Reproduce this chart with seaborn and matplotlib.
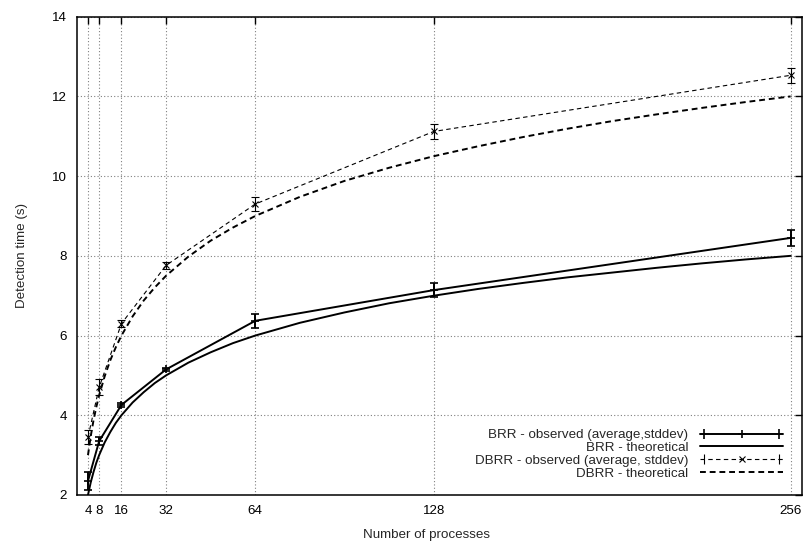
import matplotlib
matplotlib.use("Agg")
import matplotlib.pyplot as plt
import seaborn as sns
from matplotlib.lines import Line2D
from matplotlib.legend_handler import HandlerLine2D, HandlerTuple

# observed detection times (mean and stddev)
processes = [4, 8, 16, 32, 64, 128, 256]
brr_mean = [2.35, 3.35, 4.26, 5.15, 6.37, 7.14, 8.45]
brr_std = [0.22, 0.10, 0.05, 0.03, 0.17, 0.18, 0.20]
dbrr_mean = [3.45, 4.70, 6.30, 7.76, 9.30, 11.12, 12.53]
dbrr_std = [0.18, 0.20, 0.08, 0.08, 0.17, 0.18, 0.19]

# theoretical curves
theory_x = [4, 5, 6, 7, 8, 10, 12, 14, 16, 20, 24, 28, 32, 40, 48, 56, 64, 80, 96, 112,
            128, 144, 160, 176, 192, 208, 224, 240, 256]
brr_theory = [2.0, 2.32, 2.58, 2.81, 3.0, 3.32, 3.58, 3.81, 4.0, 4.32, 4.58, 4.81,
              5.0, 5.32, 5.58, 5.81, 6.0, 6.32, 6.58, 6.81, 7.0, 7.17, 7.32, 7.46,
              7.58, 7.70, 7.81, 7.91, 8.0]
dbrr_theory = [3.0, 3.48, 3.88, 4.21, 4.5, 4.98, 5.38, 5.71, 6.0, 6.48, 6.88, 7.21,
               7.5, 7.98, 8.38, 8.71, 9.0, 9.48, 9.88, 10.21, 10.5, 10.75, 10.98, 11.19,
               11.38, 11.55, 11.71, 11.86, 12.0]

y_ticks = [2, 4, 6, 8, 10, 12, 14]

sns.set_style("white")
plt.rcParams['font.family'] = ['Liberation Sans', 'DejaVu Sans']
plt.rcParams['font.size'] = 9.6

fig = plt.figure(figsize=(8.07, 5.44), dpi=100)
ax = fig.add_axes([0.0952, 0.0901, 0.8983, 0.8792])

ax.errorbar(processes, brr_mean, yerr=brr_std, color='black', lw=1.4,
            marker='+', ms=6, mew=1.2, capsize=3, elinewidth=1.4, capthick=1.4,
            zorder=4)
sns.lineplot(x=theory_x, y=brr_theory, ax=ax, color='black', lw=1.4, zorder=3)
ax.errorbar(processes, dbrr_mean, yerr=dbrr_std, color='black', lw=0.8,
            ls=(0, (4, 3)), marker='x', ms=5, mew=0.8, capsize=3,
            elinewidth=0.8, capthick=0.8, zorder=4)
sns.lineplot(x=theory_x, y=dbrr_theory, ax=ax, color='black', lw=1.4,
             ls=(0, (3, 2)), zorder=3)

ax.set_xlim(0, 260)
ax.set_ylim(2, 14)
ax.set_xticks(processes)
ax.set_yticks(y_ticks)
ax.grid(True, color='#808080', ls=(0, (1, 2)), lw=0.8)
ax.set_axisbelow(True)
ax.tick_params(direction='in', length=5, width=1, top=True, right=True,
               pad=7, labelsize=9.6, colors='black')
for sp in ax.spines.values():
    sp.set_linewidth(1.1)
    sp.set_color('black')

ax.set_xlabel('Number of processes', fontsize=9.6, va='top')
ax.xaxis.set_label_coords(0.482, -0.072)
ax.set_ylabel('Detection time (s)', fontsize=9.6)
ax.yaxis.set_label_coords(-0.068, 0.5)

# gnuplot-like legend samples: line with caps at both ends
brr_line = Line2D([], [], color='black', lw=1.4, marker='+', ms=6, mew=1.2)
brr_caps = Line2D([], [], color='black', ls='none', marker='|', ms=7, mew=1.2)
brr_th = Line2D([], [], color='black', lw=1.4)
dbrr_line = Line2D([], [], color='black', lw=0.8, ls=(0, (4, 3)), marker='x', ms=5, mew=0.8)
dbrr_caps = Line2D([], [], color='black', ls='none', marker='|', ms=7, mew=0.8)
dbrr_th = Line2D([], [], color='black', lw=1.4, ls=(0, (3, 2)))

labels = ['BRR - observed (average,stddev)', 'BRR - theoretical',
          'DBRR - observed (average, stddev)', 'DBRR - theoretical']
leg = ax.legend([(brr_line, brr_caps), brr_th, (dbrr_line, dbrr_caps), dbrr_th], labels,
                handler_map={brr_caps: HandlerLine2D(numpoints=2),
                             dbrr_caps: HandlerLine2D(numpoints=2),
                             tuple: HandlerTuple(ndivide=1)},
                loc='lower right', bbox_to_anchor=(0.989, 0.010), markerfirst=False,
                handlelength=6.2, handletextpad=0.9, labelspacing=0.03,
                borderpad=0.3, frameon=True, fancybox=False, fontsize=9.6)
leg.get_frame().set_edgecolor('none')
leg.get_frame().set_facecolor('white')
leg.get_frame().set_alpha(1)

fig.savefig('out.png', dpi=100)
